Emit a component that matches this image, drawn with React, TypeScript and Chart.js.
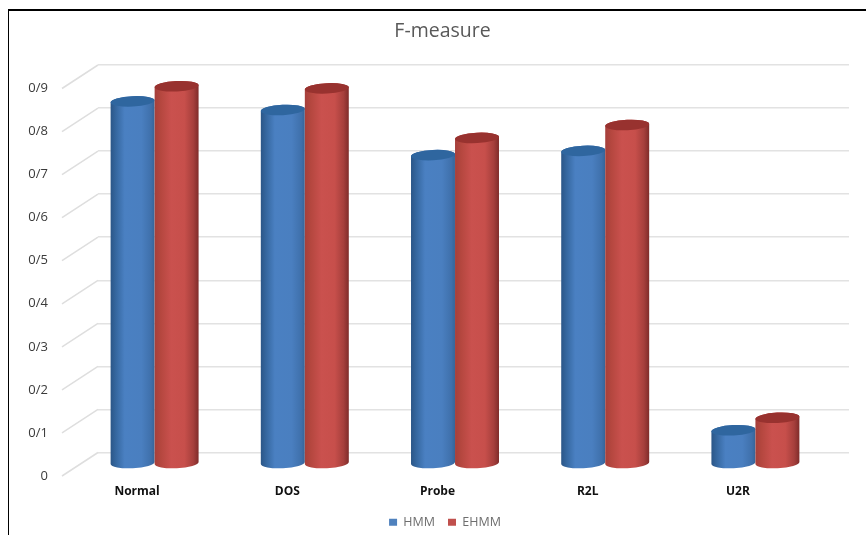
import React, { useEffect, useRef } from "react";
import { Chart, registerables } from "chart.js";

Chart.register(...registerables);

const categories = ["Normal", "DOS", "Probe", "R2L", "U2R"];
const hmmValues = [0.84, 0.82, 0.715, 0.725, 0.076];
const ehmmValues = [0.875, 0.87, 0.755, 0.785, 0.105];
const yTickLabels = ["0", "0/1", "0/2", "0/3", "0/4", "0/5", "0/6", "0/7", "0/8", "0/9"];

const SHIFT_X = -18.5;
const SHIFT_Y = 10.5;
const RY = 5.2;
const TILT = -0.05;

const palettes = [
  {
    stops: [[0, "#2b5687"], [0.12, "#35679f"], [0.32, "#4a80c2"], [0.7, "#4a7fc0"], [0.92, "#3f70ab"], [1, "#366497"]],
    top: "#2f669f",
  },
  {
    stops: [[0, "#a53f3b"], [0.14, "#b5473f"], [0.38, "#ca514e"], [0.68, "#c74f4b"], [0.88, "#a63f3c"], [1, "#7f2c2a"]],
    top: "#98322f",
  },
];

const cylinders = {
  id: "cylinders",
  afterLayout(chart: any) {
    // the title and legend sit to the right of the canvas centre in the reference
    if (chart.titleBlock) chart.titleBlock.left += 36;
    if (chart.legend) {
      chart.legend.left += 41;
      chart.legend.top -= 5.5;
    }
  },
  beforeDatasetDraw() {
    return false;
  },
  beforeDatasetsDraw(chart: any) {
    const { ctx, scales } = chart;
    const yScale = scales.y;
    ctx.save();
    ctx.strokeStyle = "#dedede";
    ctx.lineWidth = 1.5;
    yScale.ticks.forEach((_: any, i: number) => {
      const py = yScale.getPixelForTick(i);
      ctx.beginPath();
      ctx.moveTo(chart.chartArea.left, py);
      ctx.lineTo(chart.chartArea.left - 36, py + 23.5);
      ctx.stroke();
    });
    ctx.restore();
  },
  afterDatasetsDraw(chart: any) {
    const { ctx, scales } = chart;
    const baseY = scales.y.getPixelForValue(0) + SHIFT_Y;
    for (let d = 0; d < 2; d++) {
      const meta = chart.getDatasetMeta(d);
      const pal = palettes[d];
      meta.data.forEach((bar: any) => {
        const cx = bar.x + SHIFT_X;
        const rx = bar.width / 2;
        const top = bar.y + SHIFT_Y;
        const grad = ctx.createLinearGradient(cx - rx, 0, cx + rx, 0);
        pal.stops.forEach((s: any) => grad.addColorStop(s[0], s[1]));
        ctx.save();
        ctx.fillStyle = grad;
        ctx.beginPath();
        ctx.ellipse(cx, top, rx, RY, TILT, Math.PI, 0, false);
        ctx.lineTo(cx + rx, baseY - rx * Math.sin(-TILT));
        ctx.ellipse(cx, baseY, rx, RY, TILT, 0, Math.PI, false);
        ctx.closePath();
        ctx.fill();
        ctx.fillStyle = pal.top;
        ctx.beginPath();
        ctx.ellipse(cx, top, rx, RY, TILT, 0, Math.PI * 2);
        ctx.fill();
        ctx.restore();
      });
    }
  },
};

export default function App() {
  const ref = useRef<HTMLCanvasElement>(null);
  useEffect(() => {
    document.body.style.margin = "0";
    const chart = new Chart(ref.current as HTMLCanvasElement, {
      type: "bar",
      data: {
        labels: categories,
        datasets: [
          { label: "HMM", data: hmmValues, backgroundColor: "#4F81BD", categoryPercentage: 0.586, barPercentage: 1 },
          { label: "EHMM", data: ehmmValues, backgroundColor: "#C0504D", categoryPercentage: 0.586, barPercentage: 1 },
        ],
      },
      options: {
        responsive: false,
        animation: false,
        layout: { padding: { left: 0, right: 17, top: 0, bottom: -9 } },
        plugins: {
          tooltip: { enabled: false },
          title: {
            display: true,
            text: "F-measure",
            color: "#595959",
            font: { family: "Open Sans", size: 19.5, weight: "normal" },
            padding: { top: 20, bottom: 21.6 },
          },
          legend: {
            position: "bottom",
            labels: {
              boxWidth: 8,
              boxHeight: 7,
              padding: 13,
              color: "#6e6e6e",
              font: { family: "Open Sans", size: 12.5 },
            },
          },
        },
        scales: {
          x: {
            grid: { display: false },
            border: { display: false },
            afterFit: (s: any) => {
              s.height = 56;
            },
            ticks: {
              color: "#111111",
              padding: 24,
              labelOffset: -36,
              maxRotation: 0,
              font: { family: "Open Sans", size: 12, weight: "bold" },
            },
          },
          y: {
            min: 0,
            max: 0.9,
            afterFit: (s: any) => {
              s.width = 98;
            },
            border: { display: false },
            grid: { color: "#e2e2e2", lineWidth: 1.5, drawTicks: false },
            ticks: {
              stepSize: 0.1,
              color: "#3a3a3a",
              padding: 50,
              labelOffset: 23.5,
              font: { family: "Open Sans", size: 13 },
              callback: (_: any, i: number) => yTickLabels[i],
            },
          },
        },
      },
      plugins: [cylinders],
    } as any);
    return () => chart.destroy();
  }, []);
  return (
    <div style={{ position: "relative", width: 866, height: 535, overflow: "hidden", background: "#fff" }}>
      <canvas ref={ref} width={866} height={535} style={{ display: "block" }} />
      <div
        style={{
          position: "absolute",
          left: 8,
          top: 9,
          width: 860,
          height: 540,
          boxSizing: "border-box",
          borderLeft: "1.5px solid #000",
          borderTop: "2px solid #000",
          pointerEvents: "none",
        }}
      />
    </div>
  );
}
